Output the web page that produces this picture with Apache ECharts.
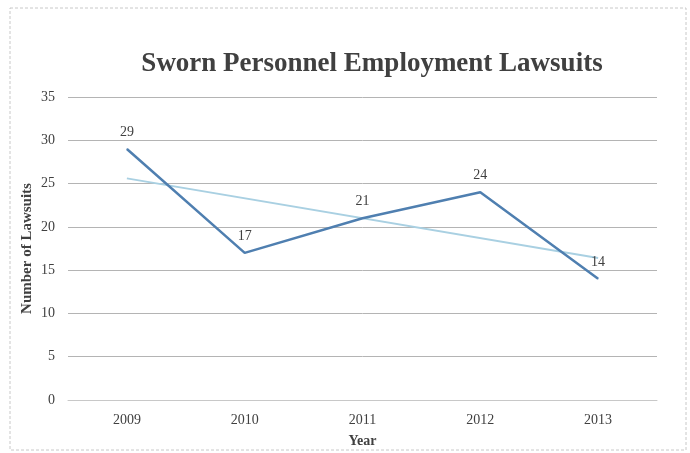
<!DOCTYPE html>
<html>
<head>
<meta charset="utf-8">
<script src="https://cdn.jsdelivr.net/npm/echarts@6/dist/echarts.min.js"></script>
<style>
  html, body { margin: 0; padding: 0; background: #fff; }
  #chart { width: 690px; height: 453px; }
</style>
</head>
<body>
<div id="chart"></div>
<script>
// data
var years = ['2009', '2010', '2011', '2012', '2013'];
var lawsuits = [29, 17, 21, 24, 14];
var trendEnds = [25.6, 16.4]; // linear trend line, first and last year
var yTicks = [0, 35, 5]; // min, max, step

var serif = '"Liberation Serif", "DejaVu Serif", serif';
var textColor = '#404040';

var chart = echarts.init(document.getElementById('chart'));

var trendData = years.map(function (y, i) {
    if (i === 0) return trendEnds[0];
    if (i === years.length - 1) return trendEnds[1];
    return null;
});

var option = {
    backgroundColor: '#fff',
    animation: false,
    title: {
        text: 'Sworn Personnel Employment Lawsuits',
        left: 367,
        top: 46,
        textAlign: 'center',
        textStyle: {
            fontFamily: serif,
            fontSize: 27,
            fontWeight: 'bold',
            color: textColor
        }
    },
    graphic: [{
        type: 'rect',
        shape: {x: 10, y: 8, width: 676, height: 442},
        style: {fill: 'none', stroke: '#c8c8c8', lineWidth: 1, lineDash: [3, 2]},
        silent: true
    }],
    grid: {
        left: 68,
        right: 33,
        top: 97,
        bottom: 48
    },
    xAxis: {
        type: 'category',
        data: years,
        boundaryGap: true,
        name: 'Year',
        nameLocation: 'middle',
        nameGap: 34,
        nameTextStyle: {fontFamily: serif, fontSize: 14, fontWeight: 'bold', color: textColor},
        axisLine: {show: true, lineStyle: {color: '#c8c8c8', width: 1}},
        axisTick: {show: false},
        axisLabel: {fontFamily: serif, fontSize: 14, color: textColor, margin: 13}
    },
    yAxis: {
        type: 'value',
        min: yTicks[0],
        max: yTicks[1],
        interval: yTicks[2],
        name: 'Number of Lawsuits',
        nameLocation: 'middle',
        nameGap: 33,
        nameMoveOverlap: false,
        nameTextStyle: {fontFamily: serif, fontSize: 15, fontWeight: 'bold', color: textColor},
        axisLine: {show: false},
        axisTick: {show: false},
        axisLabel: {fontFamily: serif, fontSize: 14, color: textColor, margin: 13},
        splitLine: {lineStyle: {color: '#b4b4b4', width: 1}}
    },
    series: [{
        name: 'Trend',
        type: 'line',
        data: trendData,
        connectNulls: true,
        symbol: 'none',
        lineStyle: {color: '#a9d0e2', width: 2},
        z: 2
    }, {
        name: 'Lawsuits',
        type: 'line',
        data: lawsuits,
        symbol: 'circle',
        symbolSize: 1,
        itemStyle: {color: '#4f7fb0'},
        lineStyle: {color: '#4f7fb0', width: 2.5},
        label: {
            show: true,
            position: 'top',
            distance: 9,
            fontFamily: serif,
            fontSize: 14,
            color: textColor
        },
        z: 3
    }]
};

chart.setOption(option);
</script>
</body>
</html>
